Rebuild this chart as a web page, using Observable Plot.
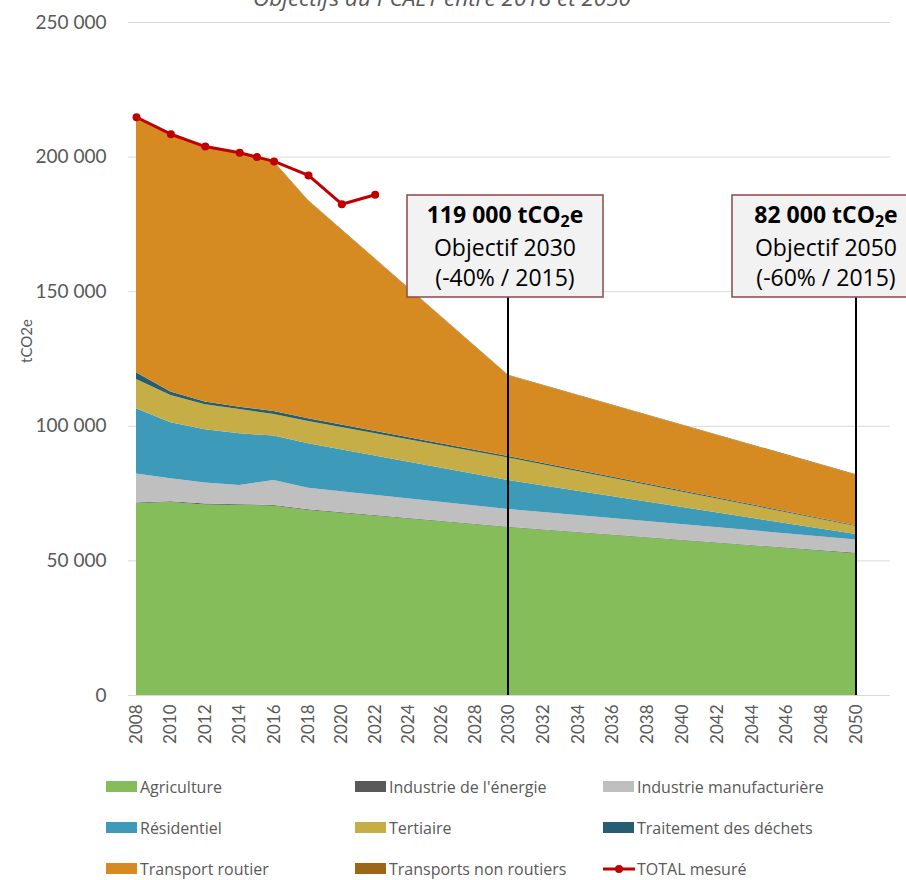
<!DOCTYPE html>
<html><head><meta charset="utf-8">
<script src="https://cdn.jsdelivr.net/npm/d3@7"></script>
<script src="https://cdn.jsdelivr.net/npm/@observablehq/plot@0.6"></script>
<style>
body{margin:0;background:#fff;}
#wrap{position:relative;width:906px;height:880px;overflow:hidden;font-family:"Open Sans",sans-serif;}
#chart{position:absolute;left:0;top:0;}
#title{position:absolute;left:0;width:884px;text-align:center;top:-14px;font-style:italic;font-size:22.5px;line-height:24px;color:#595959;white-space:nowrap;}
#legend{position:absolute;left:106px;top:766px;display:grid;grid-template-columns:249px 248px 250px;grid-auto-rows:41px;font-size:16px;line-height:16px;color:#595959;}
.item{display:flex;align-items:center;white-space:nowrap;}
.sw{width:31px;height:11px;margin-right:3px;flex:none;}
</style></head><body>
<div id="wrap"><div id="chart"></div><div id="title">Objectifs du PCAET entre 2018 et 2050</div><div id="legend"></div></div>
<script>
// ---- data (tCO2e) ----
const areaYears = [2008, 2010, 2012, 2014, 2016, 2018, 2030, 2050];
const sectors = ["Agriculture", "Industrie de l'énergie", "Industrie manufacturière", "Résidentiel", "Tertiaire", "Traitement des déchets", "Transport routier", "Transports non routiers"];
const colors = ["#86bd5b", "#595959", "#bfbfbf", "#3d9ab8", "#c6ad45", "#255e73", "#d68b22", "#9c6619"];
const agriculture     = [71200, 71700, 70800, 70600, 70300, 68700, 62300, 52600];
const industrieEnergie = [300, 300, 300, 300, 300, 300, 200, 200];
const industrieManuf  = [10800, 8500, 7800, 7100, 9300, 8000, 6600, 5000];
const residentiel     = [24200, 20800, 19800, 19200, 16500, 16500, 10800, 2000];
const tertiaire       = [10900, 10100, 9300, 9000, 8000, 8300, 8300, 3000];
const dechets         = [2500, 1300, 1000, 900, 1100, 1000, 600, 300];
const transportRoutier = [94900, 95900, 94700, 94400, 92700, 80900, 30000, 18700];
const transportNonRoutier = [200, 200, 200, 200, 200, 200, 200, 200];
const sectorValues = [agriculture, industrieEnergie, industrieManuf, residentiel, tertiaire, dechets, transportRoutier, transportNonRoutier];

const totalYears  = [2008, 2010, 2012, 2014, 2015, 2016, 2018, 2020, 2022];
const totalValues = [214800, 208500, 203900, 201600, 200000, 198400, 193200, 182500, 186000];
const totalLabel = "TOTAL mesuré";

const yTicks = [0, 50000, 100000, 150000, 200000, 250000];
const xTicks = d3.range(2008, 2051, 2);

const targetYears  = [2030, 2050];
const targetValues = ["119 000", "82 000"];
const targetTitles = ["Objectif 2030", "Objectif 2050"];
const targetNotes  = ["(-40% / 2015)", "(-60% / 2015)"];

// ---- tables ----
const rows = [];
sectors.forEach((s, i) => areaYears.forEach((yr, j) => rows.push({sector: s, year: yr, value: sectorValues[i][j]})));
const totals = totalYears.map((yr, i) => ({year: yr, value: totalValues[i]}));
const fmt = d => d3.format(",")(d).replace(/,/g, " ");

const plot = Plot.plot({
  width: 906, height: 760,
  marginLeft: 128, marginRight: 16, marginTop: 22, marginBottom: 65,
  style: {fontFamily: "Lato, sans-serif", color: "#595959", background: "transparent"},
  x: {type: "linear", domain: [2008, 2018, 2030, 2050], range: [136, 308, 508, 856]},
  y: {domain: [0, 250000]},
  color: {domain: sectors, range: colors},
  marks: [
    Plot.gridY(yTicks, {stroke: "#d9d9d9", strokeOpacity: 1, strokeWidth: 1}),
    Plot.areaY(rows, {x: "year", y: "value", fill: "sector", order: sectors, curve: "linear"}),
    Plot.line(totals, {x: "year", y: "value", stroke: "#c00000", strokeWidth: 3}),
    Plot.dot(totals, {x: "year", y: "value", r: 4, fill: "#c00000"}),
    Plot.axisY(yTicks, {tickSize: 0, tickPadding: 22, tickFormat: fmt, fontSize: 19, label: null}),
    Plot.axisX(xTicks, {tickSize: 0, tickPadding: 9, tickRotate: -90, tickFormat: d => String(d), fontSize: 17, label: null}),
    Plot.text(["tCO2e"], {frameAnchor: "left", rotate: -90, dx: -101, dy: 4, fontSize: 15, fill: "#595959"})
  ]
});
document.getElementById("chart").appendChild(plot);

// ---- target annotations (positioned with the plot's scales) ----
const sx = plot.scale("x"), sy = plot.scale("y");
const boxDx = [-3, -30], boxW = [196, 188], boxTop = 195, boxH = 102;
const svg = d3.select(plot);
const g = svg.append("g");
targetYears.forEach((yr, i) => {
  const x = sx.apply(yr);
  g.append("line").attr("x1", x).attr("x2", x).attr("y1", sy.apply(0)).attr("y2", boxTop + boxH)
    .attr("stroke", "#000").attr("stroke-width", 2);
  const cx = x + boxDx[i];
  g.append("rect").attr("x", cx - boxW[i] / 2).attr("y", boxTop).attr("width", boxW[i]).attr("height", boxH)
    .attr("fill", "#f2f2f2").attr("stroke", "#8a4848").attr("stroke-width", 1.5);
  const t = g.append("text").attr("x", cx).attr("y", boxTop + 28).attr("text-anchor", "middle")
    .attr("font-family", "Open Sans, sans-serif").attr("font-size", 23).attr("font-weight", "bold").attr("fill", "#000");
  t.append("tspan").text(targetValues[i] + " tCO");
  t.append("tspan").attr("font-size", 16).attr("dy", 4).text("2");
  t.append("tspan").attr("dy", -4).text("e");
  g.append("text").attr("x", cx).attr("y", boxTop + 61).attr("text-anchor", "middle")
    .attr("font-family", "Open Sans, sans-serif").attr("font-size", 23).attr("fill", "#000").text(targetTitles[i]);
  g.append("text").attr("x", cx).attr("y", boxTop + 91).attr("text-anchor", "middle")
    .attr("font-family", "Open Sans, sans-serif").attr("font-size", 23).attr("fill", "#000").text(targetNotes[i]);
});

// ---- legend ----
const legend = d3.select("#legend");
sectors.forEach((s, i) => {
  const it = legend.append("div").attr("class", "item");
  it.append("div").attr("class", "sw").style("background", colors[i]);
  it.append("span").text(s);
});
const it = legend.append("div").attr("class", "item");
const ls = it.append("svg").attr("width", 32).attr("height", 12).style("margin-right", "2px");
ls.append("line").attr("x1", 0).attr("x2", 32).attr("y1", 6).attr("y2", 6).attr("stroke", "#c00000").attr("stroke-width", 3);
ls.append("circle").attr("cx", 16).attr("cy", 6).attr("r", 4).attr("fill", "#c00000");
it.append("span").text(totalLabel);
</script>
</body></html>
